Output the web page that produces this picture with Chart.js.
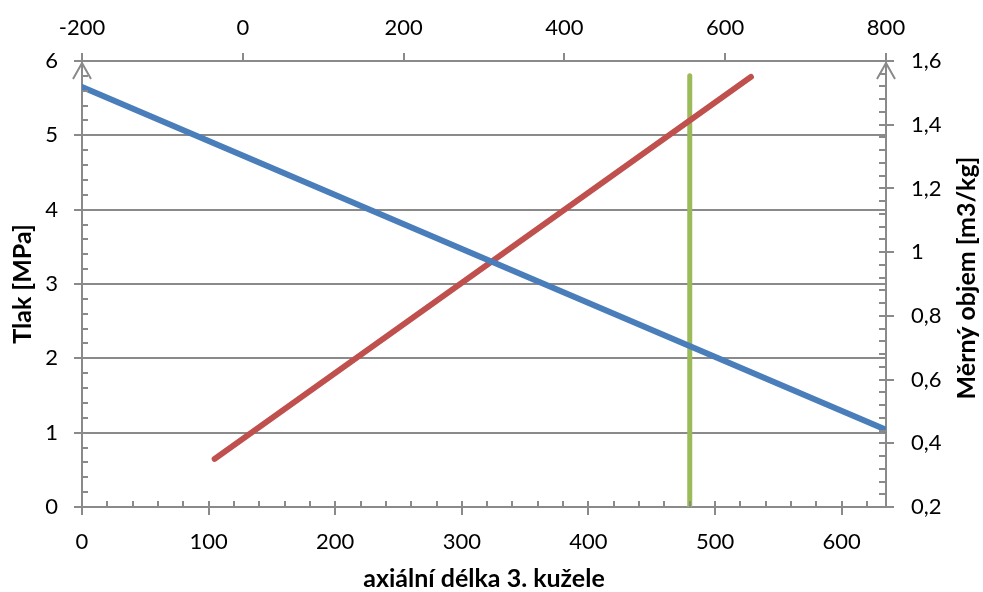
<!DOCTYPE html>
<html>
<head>
<meta charset="utf-8">
<script src="https://cdn.jsdelivr.net/npm/chart.js@4"></script>
<style>
    html, body { margin: 0; padding: 0; background: #fff; }
    #wrap { width: 983px; height: 592px; position: relative; }
</style>
</head>
<body>
<div id="wrap"><canvas id="chart"></canvas></div>
<script>
// values
const pressurePoints = [
    { x: 0, y: 5.65 },
    { x: 635, y: 1.04 },
];
const volumePoints = [
    { x: -35, y: 0.351 },
    { x: 632, y: 1.55 },
];
const markerPoints = [
    { x: 480, y: 0 },
    { x: 480, y: 5.8 },
];

const bottomRange = { min: 0, max: 635, step: 100, minor: 20 };
const topRange = { min: -200, max: 800, step: 200 };
const leftRange = { min: 0, max: 6, step: 1, minor: 0.2 };
const rightRange = { min: 0.2, max: 1.6, step: 0.2, minor: 0.04 };

const xTitle = "axiální délka 3. kužele";
const leftTitle = "Tlak [MPa]";
const rightTitle = "Měrný objem [m3/kg]";

(function () {
    const AXIS = "#8a8a8a";
    const FONT = "Lato, 'Open Sans', sans-serif";

    function commaNumber(value) {
        return String(Math.round(value * 100) / 100).replace(".", ",");
    }

    // Excel-like minor ticks, arrow heads and the right title (reads bottom to top)
    const axisDecor = {
        id: "axisDecor",
        afterDraw(chart) {
            const ctx = chart.ctx;
            const area = chart.chartArea;
            const s = chart.scales;
            ctx.save();
            ctx.strokeStyle = AXIS;
            ctx.lineWidth = 2;
            ctx.beginPath();

            for (let v = leftRange.min; v <= leftRange.max + 1e-9; v += leftRange.minor) {
                const y = Math.round(s.y.getPixelForValue(v));
                ctx.moveTo(area.left, y);
                ctx.lineTo(area.left + 6, y);
            }
            for (let v = rightRange.min; v <= rightRange.max + 1e-9; v += rightRange.minor) {
                const y = Math.round(s.y2.getPixelForValue(v));
                ctx.moveTo(area.right, y);
                ctx.lineTo(area.right - 7, y);
            }
            for (let v = bottomRange.min; v <= bottomRange.max; v += bottomRange.minor) {
                const x = Math.round(s.x.getPixelForValue(v));
                ctx.moveTo(x, area.bottom);
                ctx.lineTo(x, area.bottom - 6);
            }

            [area.left, area.right].forEach(function (x) {
                ctx.moveTo(x - 9, area.top + 18);
                ctx.lineTo(x, area.top + 2);
                ctx.lineTo(x + 9, area.top + 18);
            });
            ctx.stroke();

            ctx.fillStyle = "#000";
            ctx.font = "bold 25px " + FONT;
            ctx.textAlign = "center";
            ctx.textBaseline = "middle";
            ctx.translate(967, (area.top + area.bottom) / 2 - 6);
            ctx.rotate(-Math.PI / 2);
            ctx.fillText(rightTitle, 0, 0);
            ctx.restore();
        },
    };

    function lineSet(label, data, color, width, xAxis, yAxis) {
        return {
            label: label,
            data: data,
            xAxisID: xAxis,
            yAxisID: yAxis,
            showLine: true,
            borderColor: color,
            backgroundColor: color,
            borderWidth: width,
            borderCapStyle: "round",
            pointRadius: 0,
            clip: 0,
        };
    }

    const tickFont = { family: FONT, size: 22 };
    const titleFont = { family: FONT, size: 25, weight: "bold" };

    const config = {
        type: "scatter",
        data: {
            datasets: [
                lineSet("Tlak", pressurePoints, "#4a7ebb", 6, "x", "y"),
                lineSet("Měrný objem", volumePoints, "#c0504d", 6, "x2", "y2"),
                lineSet("Poloha", markerPoints, "#9bbb59", 5, "x", "y"),
            ],
        },
        options: {
            responsive: true,
            maintainAspectRatio: false,
            animation: false,
            layout: { padding: 0 },
            plugins: {
                legend: { display: false },
                tooltip: { enabled: false },
            },
            scales: {
                x: {
                    type: "linear",
                    position: "bottom",
                    min: bottomRange.min,
                    max: bottomRange.max,
                    afterFit: function (scale) { scale.height = 85; },
                    border: { color: AXIS, width: 2 },
                    grid: { drawOnChartArea: false, color: AXIS, lineWidth: 2, tickLength: 8 },
                    ticks: {
                        stepSize: bottomRange.step,
                        includeBounds: false,
                        color: "#000",
                        font: tickFont,
                        padding: 14,
                        maxRotation: 0,
                    },
                    title: { display: true, text: xTitle, color: "#000", font: titleFont, padding: { top: 0, bottom: -2 } },
                },
                x2: {
                    type: "linear",
                    position: "top",
                    min: topRange.min,
                    max: topRange.max,
                    afterFit: function (scale) { scale.height = 61; },
                    border: { color: AXIS, width: 2 },
                    grid: { drawOnChartArea: false, color: AXIS, lineWidth: 2, tickLength: 8 },
                    ticks: {
                        stepSize: topRange.step,
                        color: "#000",
                        font: tickFont,
                        padding: 12,
                        maxRotation: 0,
                    },
                },
                y: {
                    type: "linear",
                    position: "left",
                    min: leftRange.min,
                    max: leftRange.max,
                    afterFit: function (scale) { scale.width = 82; },
                    border: { color: AXIS, width: 2 },
                    grid: { color: AXIS, lineWidth: 2, tickLength: 8 },
                    ticks: {
                        stepSize: leftRange.step,
                        color: "#000",
                        font: tickFont,
                        padding: 16,
                    },
                    title: { display: true, text: leftTitle, color: "#000", font: titleFont, padding: { top: 8, bottom: 0 } },
                },
                y2: {
                    type: "linear",
                    position: "right",
                    min: rightRange.min,
                    max: rightRange.max,
                    afterFit: function (scale) { scale.width = 97; },
                    border: { color: AXIS, width: 2 },
                    grid: { drawOnChartArea: false, color: AXIS, lineWidth: 2, tickLength: 8 },
                    ticks: {
                        stepSize: rightRange.step,
                        color: "#000",
                        font: tickFont,
                        padding: 17,
                        callback: commaNumber,
                    },
                },
            },
        },
        plugins: [axisDecor],
    };

    new Chart(document.getElementById("chart").getContext("2d"), config);
})();
</script>
</body>
</html>
